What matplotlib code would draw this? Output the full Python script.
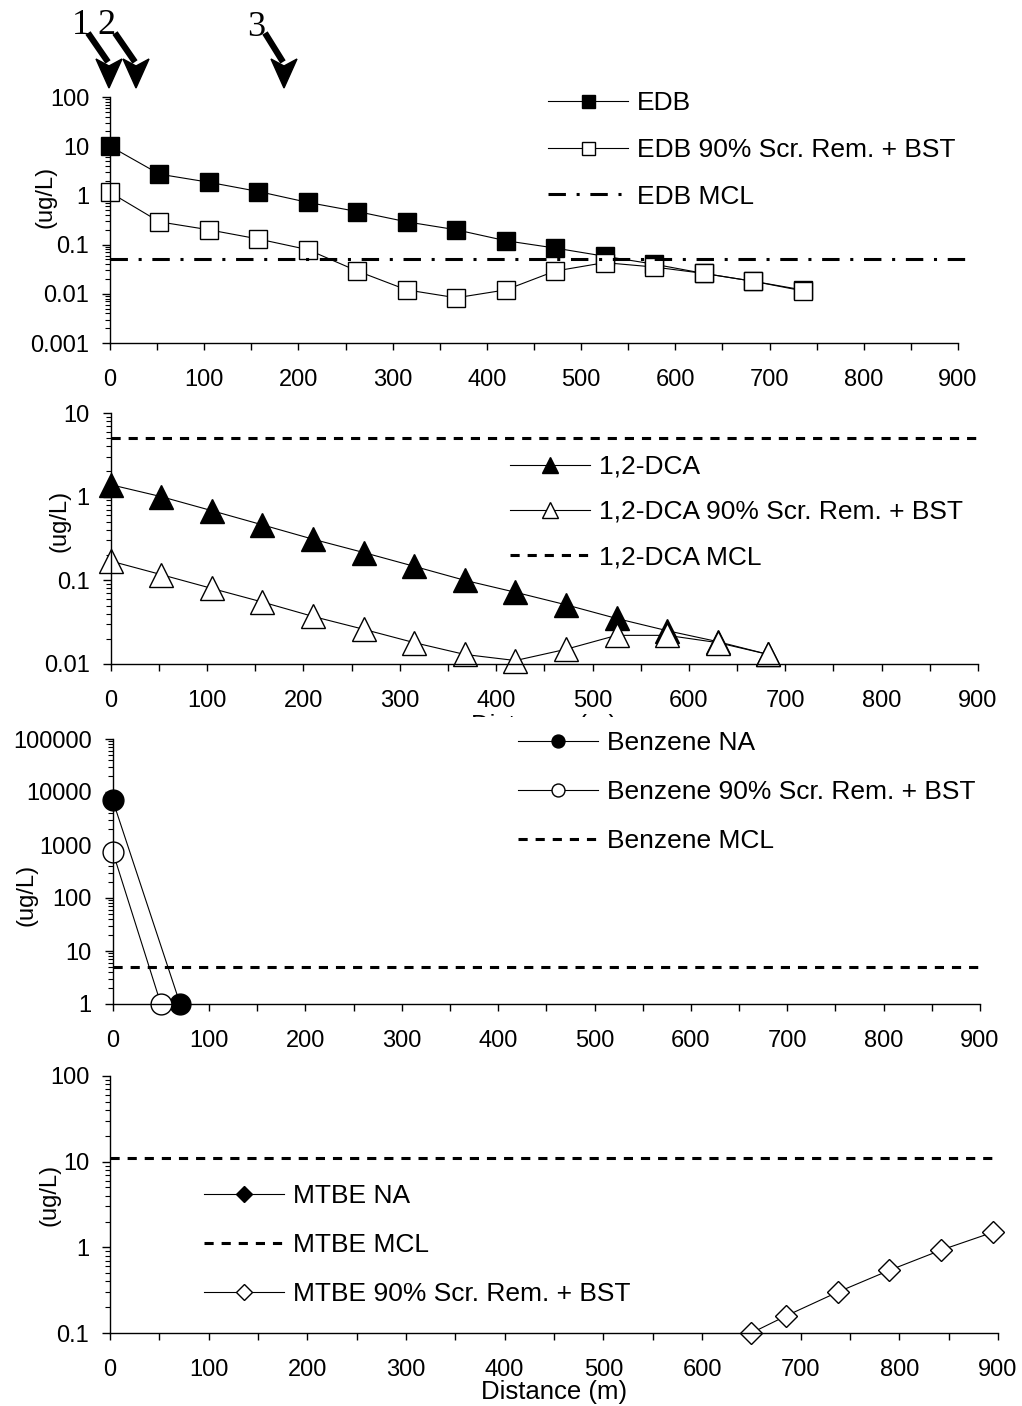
import matplotlib
matplotlib.use("Agg")
import matplotlib.pyplot as plt
from matplotlib.ticker import LogLocator, MultipleLocator, NullFormatter, FuncFormatter
from matplotlib.patches import Polygon
from matplotlib.transforms import Bbox, TransformedBbox

plt.rcParams["font.family"] = ["Liberation Sans", "DejaVu Sans"]

W, H = 1022, 1406

# distance along the plume (m)
dist = [0, 52.5, 105, 157.5, 210, 262.5, 315, 367.5, 420, 472.5, 525, 577.5, 630, 682.5, 735]

# EDB
edb_na = [10, 2.7, 1.85, 1.2, 0.72, 0.47, 0.29, 0.20, 0.12, 0.085, 0.058, 0.040, 0.026, 0.018, 0.012]
edb_trt = [1.15, 0.29, 0.20, 0.13, 0.079, 0.029, 0.012, 0.0083, 0.012, 0.029, 0.043, 0.035, 0.026, 0.018, 0.0115]
edb_mcl = 0.05

# 1,2-DCA
dca_dist = dist[:14]
dca_na = [1.39, 1.0, 0.68, 0.46, 0.31, 0.215, 0.147, 0.10, 0.072, 0.051, 0.035, 0.025, 0.0185, 0.013]
dca_trt = [0.17, 0.117, 0.080, 0.055, 0.037, 0.026, 0.018, 0.013, 0.011, 0.015, 0.022, 0.022, 0.018, 0.013]
dca_mcl = 5

# Benzene
benz_na_dist = [0, 70]
benz_na = [7000, 1]
benz_trt_dist = [0, 50]
benz_trt = [750, 1]
benz_mcl = 5

# MTBE (NA stays below the plotted range)
mtbe_na_dist = []
mtbe_na = []
mtbe_dist = [650, 685, 737.5, 790, 842.5, 895]
mtbe_trt = [0.1, 0.158, 0.30, 0.54, 0.93, 1.5]
mtbe_mcl = 11

mcl_span = [0, 900]


def box(left, top, right, bottom):
    return [left / W, 1 - bottom / H, (right - left) / W, (bottom - top) / H]


def style(ax, ylim, ylab_pos, xlab_pad=-1):
    ax.set_xlim(0, 900)
    ax.set_yscale("log")
    ax.set_ylim(*ylim)
    for s in ("top", "right"):
        ax.spines[s].set_visible(False)
    for s in ("left", "bottom"):
        ax.spines[s].set_linewidth(1)
    ax.xaxis.set_major_locator(MultipleLocator(100))
    ax.xaxis.set_minor_locator(MultipleLocator(50))
    ax.tick_params(axis="x", which="both", direction="out", length=5, width=1,
                   pad=14, labelsize=17)
    ax.yaxis.set_major_locator(LogLocator(base=10, numticks=12))
    ax.yaxis.set_minor_locator(LogLocator(base=10, subs=range(2, 10), numticks=12))
    ax.yaxis.set_major_formatter(FuncFormatter(lambda v, p: f"{v:g}"))
    ax.yaxis.set_minor_formatter(NullFormatter())
    ax.tick_params(axis="y", which="major", direction="out", length=6, width=1,
                   pad=9, labelsize=17)
    ax.tick_params(axis="y", which="minor", direction="out", length=3.5, width=0.8)
    ax.set_ylabel("(ug/L)", fontsize=17)
    ax.yaxis.set_label_coords(*ylab_pos)
    ax.set_xlabel("Distance (m)", fontsize=18.5, labelpad=xlab_pad)


def hide_below(ax, ycut):
    # the next panel covers most of this axis title; only its top peeks out
    clip = TransformedBbox(Bbox.from_extents(0, 1 - ycut / H, 1, 1), fig.transFigure)
    ax.xaxis.label.set_clip_box(clip)
    ax.xaxis.label.set_clip_on(True)


def leg(ax, x, y, scale, spacing, order=None):
    h, l = ax.get_legend_handles_labels()
    if order:
        h = [h[i] for i in order]
        l = [l[i] for i in order]
    ax.legend(h, l, loc="center left", bbox_to_anchor=(x / W, 1 - y / H),
              bbox_transform=fig.transFigure, frameon=False, fontsize=19,
              handlelength=3.03, handletextpad=0.34, labelspacing=spacing,
              borderpad=0, borderaxespad=0, markerscale=scale)


line_kw = dict(color="black", lw=0.8, clip_on=False, markeredgecolor="black",
               markeredgewidth=1.0)
mcl_kw = dict(color="black", lw=2.2, ls=(0, (3, 2.6)), clip_on=False)

fig = plt.figure(figsize=(W / 100, H / 100), dpi=100)

# EDB
ax1 = fig.add_axes(box(110, 97, 958, 343))
ax1.plot(dist, edb_na, marker="s", ms=13, mfc="black", label="EDB", **line_kw)
ax1.plot(dist, edb_trt, marker="s", ms=13, mfc="white",
         label="EDB 90% Scr. Rem. + BST", **line_kw)
ax1.plot([0, 910], [edb_mcl] * 2, color="black", lw=2.2,
         ls=(0, (5.7, 3.5, 1, 3.5)), clip_on=False, label="EDB MCL")
style(ax1, (0.001, 100), (-0.0625, 0.594))
ax1.xaxis.label.set_visible(False)
leg(ax1, 548, 150, 0.72, 0.86)

# 1,2-DCA
ax2 = fig.add_axes(box(110.7, 413, 978, 664))
ax2.plot(dca_dist, dca_na, marker="^", ms=17, mfc="black", label="1,2-DCA", **line_kw)
ax2.plot(dca_dist, dca_trt, marker="^", ms=17, mfc="white",
         label="1,2-DCA 90% Scr. Rem. + BST", **line_kw)
ax2.plot(mcl_span, [dca_mcl] * 2, label="1,2-DCA MCL", **mcl_kw)
style(ax2, (0.01, 10), (-0.0458, 0.568), xlab_pad=1)
hide_below(ax2, 717)
leg(ax2, 510, 512, 0.67, 0.80)

# Benzene
ax3 = fig.add_axes(box(112.7, 739, 980, 1004))
ax3.plot(benz_na_dist, benz_na, marker="o", ms=15, mfc="black", label="Benzene NA", **line_kw)
ax3.plot(benz_trt_dist, benz_trt, marker="o", ms=15, mfc="white",
         label="Benzene 90% Scr. Rem. + BST", **line_kw)
ax3.plot(mcl_span, [benz_mcl] * 2, label="Benzene MCL", **mcl_kw)
style(ax3, (1, 100000), (-0.0862, 0.41), xlab_pad=1)
hide_below(ax3, 1053)
leg(ax3, 518, 792, 0.62, 0.94)

# MTBE
ax4 = fig.add_axes(box(110, 1076, 998, 1333))
ax4.plot(mtbe_na_dist, mtbe_na, marker="D", ms=11.5, mfc="black", label="MTBE NA", **line_kw)
ax4.plot(mtbe_dist, mtbe_trt, marker="D", ms=11.5, mfc="white",
         label="MTBE 90% Scr. Rem. + BST", **line_kw)
ax4.plot(mcl_span, [mtbe_mcl] * 2, label="MTBE MCL", **mcl_kw)
style(ax4, (0.1, 100), (-0.0552, 0.537))
leg(ax4, 204, 1245, 0.7, 0.94, order=[0, 2, 1])

# overlay in pixel coords for the numbered well arrows
ov = fig.add_axes([0, 0, 1, 1])
ov.set_xlim(0, W)
ov.set_ylim(H, 0)
ov.axis("off")

arrows = [("1", 81, 26, (88, 33), (108, 62)),
          ("2", 106, 26, (115, 33), (135, 62)),
          ("3", 256, 28, (265, 33), (283, 62))]
for lab, tx, ty, p0, p1 in arrows:
    ov.text(tx, ty, lab, fontsize=26, family=["Liberation Serif", "DejaVu Serif"],
            ha="center", va="center")
    ov.plot([p0[0], p1[0]], [p0[1], p1[1]], color="black", lw=4.5, solid_capstyle="butt")
    cx = p1[0] + 1
    ov.add_patch(Polygon([(cx - 13, 59), (cx, 66), (cx + 13, 59), (cx, 88)],
                         closed=True, color="black"))

fig.savefig("out.png", dpi=100)
